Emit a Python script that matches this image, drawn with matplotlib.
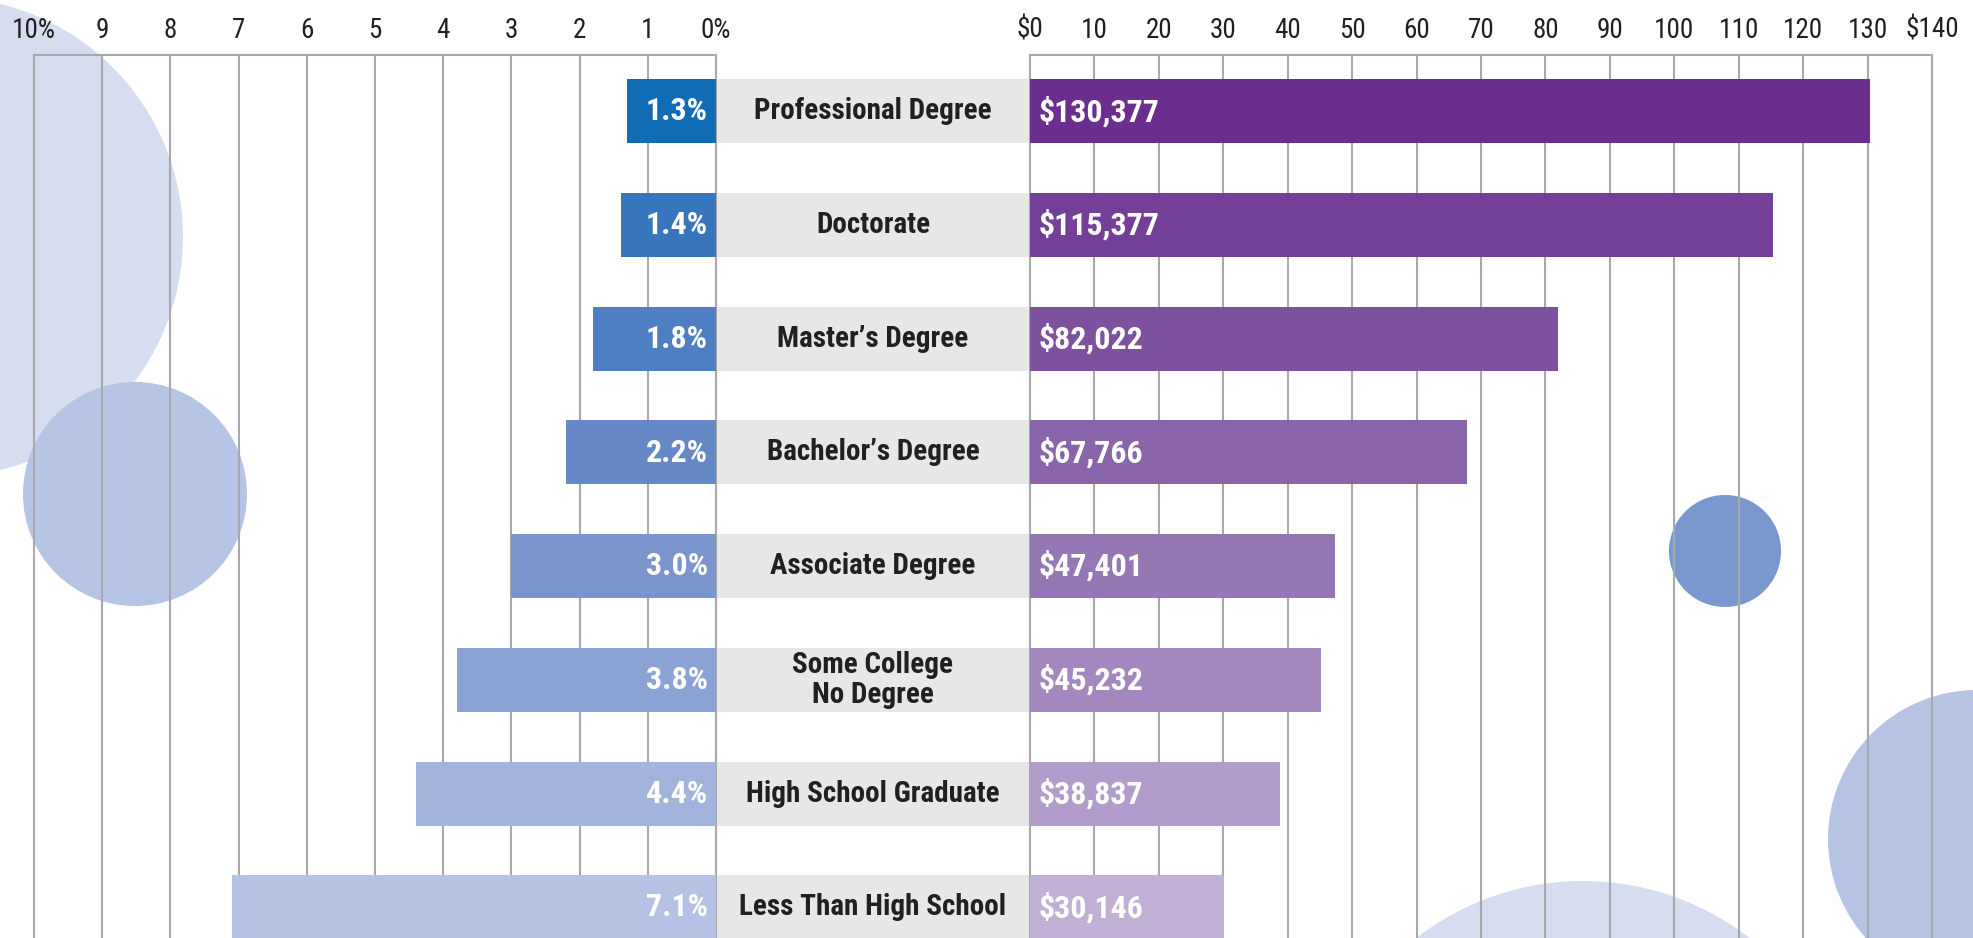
import matplotlib
matplotlib.use("Agg")
import matplotlib.pyplot as plt
from matplotlib import font_manager as fm
from matplotlib.patches import Circle

# ── data ─────────────────────────────────────────────────────────────────────
categories = [
    "Professional Degree",
    "Doctorate",
    "Master\u2019s Degree",
    "Bachelor\u2019s Degree",
    "Associate Degree",
    "Some College\nNo Degree",
    "High School Graduate",
    "Less Than High School",
]
unemployment = [1.3, 1.4, 1.8, 2.2, 3.0, 3.8, 4.4, 7.1]                     # percent
earnings = [130377, 115377, 82022, 67766, 47401, 45232, 38837, 30146]    # USD / yr

pct_ticks = list(range(0, 11))
pct_labels = ["0%", "1", "2", "3", "4", "5", "6", "7", "8", "9", "10%"]
usd_ticks = list(range(0, 141, 10))
usd_labels = ["$0"] + [str(v) for v in usd_ticks[1:-1]] + ["$140"]

left_colors = ["#0F6CB5", "#3775BD", "#4E7FC2", "#6589C7",
               "#7A94CC", "#8AA3D4", "#A2B4DC", "#B5C2E3"]
right_colors = ["#6B2D8E", "#743F96", "#7E519F", "#8A64A9",
                "#9578B3", "#A387BE", "#B29CCB", "#C1AFD6"]

# ── layout (pixels) ─────────────────────────────────────────────────────────
W, H = 1974, 938
TOP = 55
LEFT_X0, LEFT_X1 = 34, 716          # 10% ... 0%
RIGHT_X0, RIGHT_X1 = 1030, 1932     # $0 ... $140
ROW0, PITCH, BAR_PX = 111.4, 113.7, 64
PX_PER_PCT = (LEFT_X1 - LEFT_X0) / 10
PX_PER_K = (RIGHT_X1 - RIGHT_X0) / 140

GRID = "#A7A9AC"
BOX = "#E6E7E8"
INK = "#231F20"


# ── font: the original uses a condensed grotesque, take one if present ───────
def pick_font():
    entries = fm.fontManager.ttflist
    names = {f.name for f in entries}
    for want in ("Liberation Sans Narrow", "Roboto Condensed", "Noto Sans Condensed",
                 "DejaVu Sans Condensed", "Open Sans Condensed", "Arial Narrow"):
        if want in names:
            return want, "normal", True
    for fam in ("Noto Sans", "DejaVu Sans", "Open Sans", "Roboto", "Inter"):
        for st in ("condensed", "semi-condensed", "extra-condensed"):
            if any(f.name == fam and f.stretch == st for f in entries):
                return fam, st, True
    for fam in ("Roboto", "Liberation Sans", "DejaVu Sans"):
        if fam in names:
            return fam, "normal", False
    return "DejaVu Sans", "normal", False


FAMILY, STRETCH, NARROW = pick_font()
plt.rcParams["font.family"] = [FAMILY, "DejaVu Sans"]
plt.rcParams["font.stretch"] = STRETCH

if NARROW:
    CAT_FS, VAL_FS, TICK_FS = 21, 23, 19.5
else:
    CAT_FS, VAL_FS, TICK_FS = 17, 19, 15

n = len(categories)
rows = list(range(n))
span = (H - TOP) / PITCH
y_top = -(ROW0 - TOP) * span / (H - TOP)
y_bot = y_top + span
bar_h = BAR_PX * span / (H - TOP)


def frac(x0, x1):
    return [x0 / W, 0, (x1 - x0) / W, (H - TOP) / H]


fig = plt.figure(figsize=(W / 100, H / 100), dpi=100)
fig.patch.set_facecolor("white")

# ── background bubbles ──────────────────────────────────────────────────────
bg = fig.add_axes([0, 0, 1, 1])
bg.set_xlim(0, W)
bg.set_ylim(H, 0)
bg.axis("off")
for (cx, cy, r), col in [((-57, 237, 240), "#D7DDF0"),
                         ((135, 494, 112), "#B6C4E5"),
                         ((1725, 551, 56), "#7898CE"),
                         ((1977, 839, 149), "#B6C3E4"),
                         ((1583, 1153, 272), "#D7DDF0")]:
    bg.add_patch(Circle((cx, cy), r, color=col, lw=0, zorder=0))

# ── centre label boxes ──────────────────────────────────────────────────────
mid = fig.add_axes(frac(LEFT_X1, RIGHT_X0))
mid.set_xlim(0, 1)
mid.set_ylim(y_bot, y_top)
mid.axis("off")
mid.barh(rows, [1] * n, left=0, height=bar_h, color=BOX, lw=0)
cat_texts = []
for i, cat in enumerate(categories):
    cat_texts.append(mid.text(0.5, i, cat, ha="center", va="center",
                              fontsize=CAT_FS, fontweight="bold", color=INK,
                              linespacing=1.1))


def frame(ax, ticks, labels):
    ax.set_facecolor("none")
    for s in ("left", "right", "bottom"):
        ax.spines[s].set_visible(False)
    ax.spines["top"].set_color(GRID)
    ax.spines["top"].set_linewidth(1.5)
    for t in ticks:
        ax.axvline(t, color=GRID, lw=1.5, zorder=0.5, clip_on=False)
    ax.xaxis.tick_top()
    ax.set_xticks(ticks)
    ax.set_xticklabels(labels, fontsize=TICK_FS, color=INK)
    ax.tick_params(axis="x", length=0, pad=8)
    ax.set_yticks([])
    ax.set_ylim(y_bot, y_top)


# ── left: unemployment rate ─────────────────────────────────────────────────
axl = fig.add_axes(frac(LEFT_X0, LEFT_X1))
axl.set_xlim(10, 0)
frame(axl, pct_ticks, pct_labels)
axl.barh(rows, unemployment, height=bar_h, color=left_colors, lw=0, zorder=2)
pct_texts = []
for i, v in enumerate(unemployment):
    pct_texts.append(axl.annotate(f"{v:.1f}%", (0, i), xytext=(-6, 0),
                                  textcoords="offset points", ha="right",
                                  va="center", fontsize=VAL_FS,
                                  fontweight="bold", color="white", zorder=3))

# ── right: median earnings ──────────────────────────────────────────────────
axr = fig.add_axes(frac(RIGHT_X0, RIGHT_X1))
axr.set_xlim(0, 140)
frame(axr, usd_ticks, usd_labels)
axr.barh(rows, [e / 1000 for e in earnings], height=bar_h, color=right_colors,
         lw=0, zorder=2)
usd_texts = []
for i, e in enumerate(earnings):
    usd_texts.append(axr.annotate(f"${e:,}", (0, i), xytext=(6, 0),
                                  textcoords="offset points", ha="left",
                                  va="center", fontsize=VAL_FS,
                                  fontweight="bold", color="white", zorder=3))

# ── keep labels inside their boxes / bars (font widths vary) ─────────────────
fig.canvas.draw()
rend = fig.canvas.get_renderer()
room = (RIGHT_X0 - LEFT_X1) - 20
k_cat = min(1.0, min(room / t.get_window_extent(rend).width for t in cat_texts))
for t in cat_texts:
    t.set_fontsize(CAT_FS * k_cat)

k_val = 1.0
for t, v in zip(pct_texts, unemployment):
    k_val = min(k_val, (v * PX_PER_PCT - 14) / t.get_window_extent(rend).width)
for t, e in zip(usd_texts, earnings):
    k_val = min(k_val, (e / 1000 * PX_PER_K - 14) / t.get_window_extent(rend).width)
for t in pct_texts + usd_texts:
    t.set_fontsize(VAL_FS * k_val)

fig.savefig("out.png", dpi=100)
